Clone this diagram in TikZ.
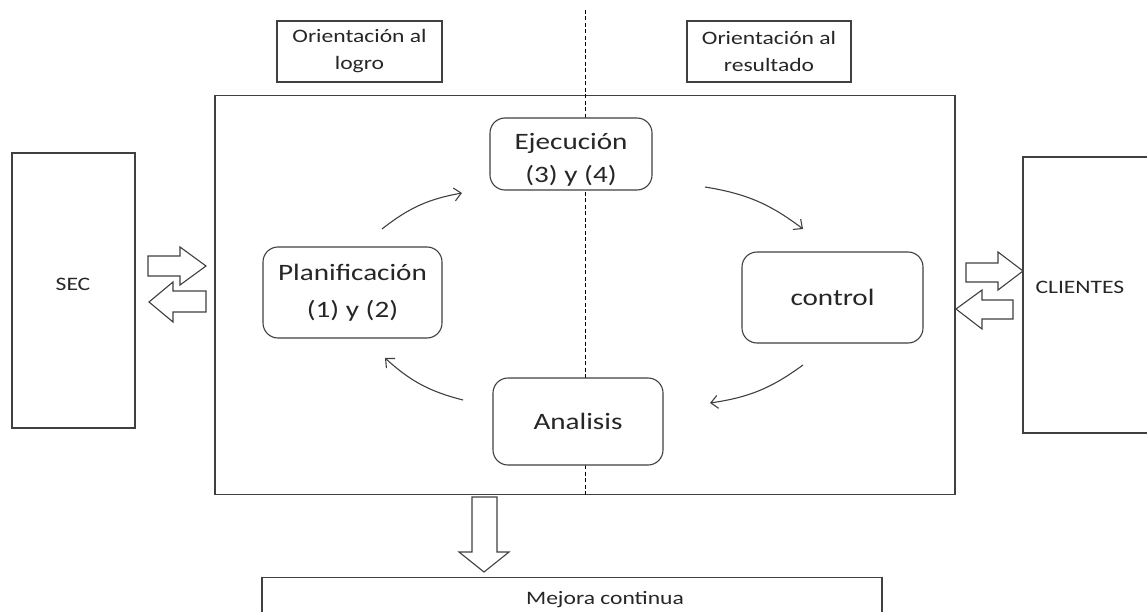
\documentclass[tikz,border=0pt]{standalone}
\usepackage{fontspec}
\setmainfont{Carlito}[FakeStretch=1.24]
\usetikzlibrary{arrows.meta}
\definecolor{linea}{HTML}{404040}
\definecolor{texto}{HTML}{262626}
\tikzset{
  caja/.style={draw=linea, line width=1.1pt, align=center, inner sep=0pt, text=texto},
  redonda/.style={caja, rounded corners=15pt, fill=white},
  chica/.style={font=\fontsize{19}{27}\selectfont, text=texto, align=center},
  grande/.style={font=\fontsize{23.5}{37}\selectfont},
  ciclo/.style={draw=linea, line width=1.1pt, -{Straight Barb[length=7pt,width=13pt]}},
  bloque/.style={draw=linea, line width=1.1pt, fill=white, line join=miter}
}
\begin{document}
\begin{tikzpicture}[x=1pt,y=1pt]
  \useasboundingbox (0,0) rectangle (1147,-612);
  \clip (0,0) rectangle (1147,-612);
  % cajas de arriba
  \node[caja,chica,minimum width=165pt,minimum height=61pt] (logro) at (359.5,-51.5) {Orientación al\\logro};
  \node[caja,chica,minimum width=164pt,minimum height=61pt] (resultado) at (769,-51.5) {Orientación al\\resultado};
  % marco central
  \node[caja,minimum width=740pt,minimum height=399pt] (marco) at (585,-295) {};
  \draw[dash pattern=on 4pt off 2.5pt, line width=0.9pt] (585,-10) -- (585,-497);
  % SEC y CLIENTES
  \node[caja,minimum width=123pt,minimum height=275pt] (sec) at (73.5,-290.5) {};
  \node[chica] (tsec) at (73,-284) {SEC};
  \node[caja,minimum width=150pt,minimum height=276pt] (clientes) at (1098,-295) {};
  \node[chica,anchor=west] (tclientes) at (1032,-287) {CLIENTES};
  % ciclo
  \node[redonda,font=\fontsize{23.5}{33}\selectfont,minimum width=162pt,minimum height=72pt] (ejec) at (571,-154) {\rule{0pt}{28pt}Ejecución\\(3) y (4)};
  \node[redonda,grande,minimum width=179pt,minimum height=91pt] (plan) at (352.5,-292.5) {Planificación\\(1) y (2)};
  \node[redonda,grande,minimum width=181pt,minimum height=91pt] (ctrl) at (832.5,-297.5) {control};
  \node[redonda,grande,minimum width=170pt,minimum height=87pt] (anal) at (578,-421.5) {Analisis};
  \coordinate (c1) at (382,-229); \coordinate (c2) at (462,-193);
  \coordinate (c3) at (705,-187); \coordinate (c4) at (803,-229);
  \coordinate (c5) at (803,-365); \coordinate (c6) at (710,-403);
  \coordinate (c7) at (463,-400); \coordinate (c8) at (385,-358);
  \draw[ciclo] (c1) to[bend left=14] (c2);
  \draw[ciclo] (c3) to[bend left=14] (c4);
  \draw[ciclo] (c5) to[bend left=14] (c6);
  \draw[ciclo] (c7) to[bend left=14] (c8);
  % flechas de bloque
  \draw[bloque] (148,-256) -- (180,-256) -- (180,-247) -- (206,-266) -- (180,-285) -- (180,-276) -- (148,-276) -- cycle;
  \draw[bloque] (206,-291) -- (173,-291) -- (173,-282) -- (149,-302) -- (173,-322) -- (173,-312) -- (206,-312) -- cycle;
  \draw[bloque] (966,-263) -- (998,-263) -- (998,-252) -- (1023,-271) -- (998,-290) -- (998,-282) -- (966,-282) -- cycle;
  \draw[bloque] (1013,-300) -- (982,-300) -- (982,-290) -- (956,-309) -- (982,-329) -- (982,-319) -- (1013,-319) -- cycle;
  \draw[bloque] (472,-497) -- (497,-497) -- (497,-552) -- (509,-552) -- (484,-572) -- (459,-552) -- (472,-552) -- cycle;
  % mejora continua
  \node[caja,minimum width=620pt,minimum height=60pt,anchor=north] (mejora) at (572,-577) {};
  \node[chica] (tmejora) at (605,-600) {Mejora continua};
\end{tikzpicture}
\end{document}
